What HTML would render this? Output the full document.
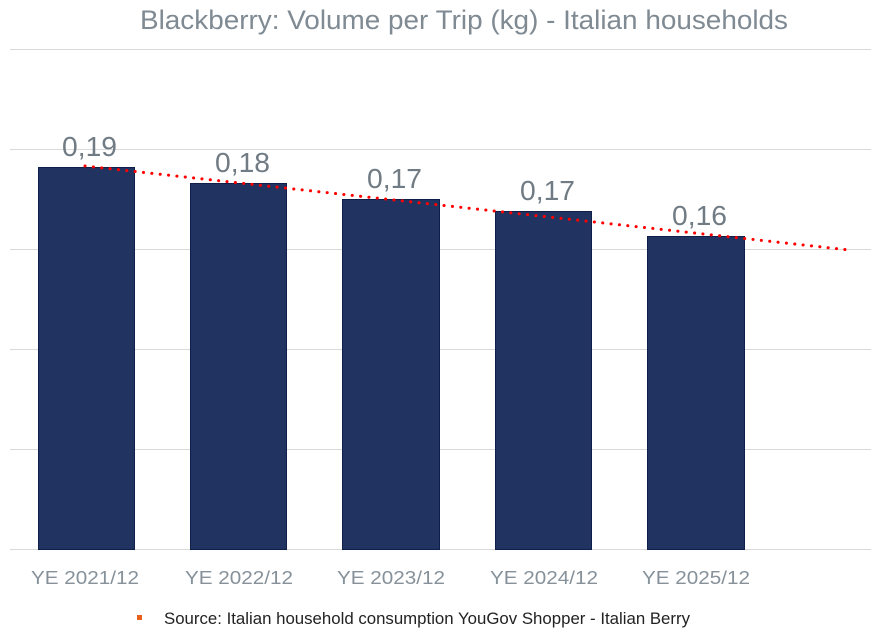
<!DOCTYPE html>
<html><head><meta charset="utf-8"><style>body{margin:0;background:#fff}svg{display:block}</style></head><body>
<svg width="871" height="633" xmlns="http://www.w3.org/2000/svg" font-family="'Liberation Sans',sans-serif">
<rect width="871" height="633" fill="#fff"/>
<g stroke="#d9d9d9" stroke-width="1">
<line x1="10" y1="49.5" x2="871" y2="49.5"/>
<line x1="10" y1="149.5" x2="871" y2="149.5"/>
<line x1="10" y1="249.5" x2="871" y2="249.5"/>
<line x1="10" y1="349.5" x2="871" y2="349.5"/>
<line x1="10" y1="449.5" x2="871" y2="449.5"/>
<line x1="10" y1="549.5" x2="871" y2="549.5"/>
</g>
<text x="140" y="29" font-size="27" fill="#7f8a93" textLength="648" lengthAdjust="spacingAndGlyphs">Blackberry: Volume per Trip (kg) - Italian households</text>
<g fill="#213360" stroke="#0f1f4a" stroke-width="1">
<rect x="38.5" y="167.5" width="96" height="382"/>
<rect x="190.5" y="183.5" width="96" height="366"/>
<rect x="342.5" y="199.5" width="97" height="350"/>
<rect x="495.5" y="211.5" width="96" height="338"/>
<rect x="647.5" y="236.5" width="97" height="313"/>
</g>
<line x1="85" y1="166" x2="849" y2="250" stroke="#ff0000" stroke-width="3" stroke-dasharray="0.1 8.3" stroke-linecap="round"/>
<g font-size="28" fill="#707b84">
<text x="62" y="156" textLength="55" lengthAdjust="spacingAndGlyphs">0,19</text>
<text x="215" y="172" textLength="55" lengthAdjust="spacingAndGlyphs">0,18</text>
<text x="367" y="188" textLength="55" lengthAdjust="spacingAndGlyphs">0,17</text>
<text x="520" y="200" textLength="55" lengthAdjust="spacingAndGlyphs">0,17</text>
<text x="672" y="225" textLength="55" lengthAdjust="spacingAndGlyphs">0,16</text>
</g>
<g font-size="18" fill="#86919a">
<text x="31" y="584" textLength="108" lengthAdjust="spacingAndGlyphs">YE 2021/12</text>
<text x="185" y="584" textLength="108" lengthAdjust="spacingAndGlyphs">YE 2022/12</text>
<text x="337" y="584" textLength="108" lengthAdjust="spacingAndGlyphs">YE 2023/12</text>
<text x="490" y="584" textLength="108" lengthAdjust="spacingAndGlyphs">YE 2024/12</text>
<text x="642" y="584" textLength="108" lengthAdjust="spacingAndGlyphs">YE 2025/12</text>
</g>
<rect x="137" y="615" width="5" height="5" fill="#e8601c"/>
<text x="164" y="624" font-size="17" fill="#222" textLength="526" lengthAdjust="spacingAndGlyphs">Source: Italian household consumption YouGov Shopper - Italian Berry</text>
</svg>
</body></html>
